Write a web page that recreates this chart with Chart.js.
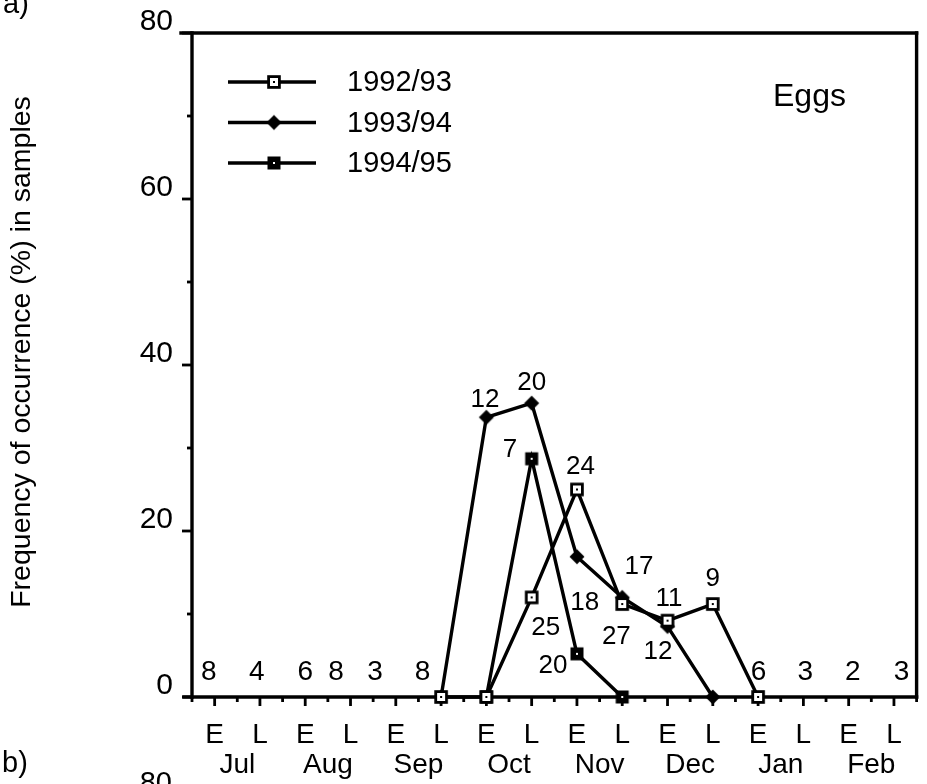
<!DOCTYPE html>
<html>
<head>
<meta charset="utf-8">
<script src="https://cdn.jsdelivr.net/npm/chart.js@4"></script>
<style>
  html, body { margin: 0; padding: 0; background: #fff; }
  #wrap { width: 927px; height: 784px; position: relative; }
</style>
</head>
<body>
<div id="wrap"><canvas id="c"></canvas></div>
<script>
// Sampling periods: early (E) and late (L) half of each month, July to February
const periods = ['E','L','E','L','E','L','E','L','E','L','E','L','E','L','E','L'];
const months = ['Jul','Aug','Sep','Oct','Nov','Dec','Jan','Feb'];

// Frequency of occurrence of eggs (%) per period and season
const seasonNames = ['1992/93', '1993/94', '1994/95'];
const season9293 = [null, null, null, null, null, 0, 0, 12, 25, 11.2, 9.2, 11.2, 0, null, null, null];
const season9394 = [null, null, null, null, null, 0, 33.7, 35.4, 16.9, 12, 8.5, 0, null, null, null, null];
const season9495 = [null, null, null, null, null, null, 0, 28.7, 5.2, 0, null, null, null, null, null, null];

const yMajorTicks = [0, 20, 40, 60, 80];

// Number of samples per period, written beside the points (period index, percent)
const sampleCounts = [
  { text: '8',  at: [-0.13, 3.0] }, { text: '4',  at: [0.93, 3.0] },
  { text: '6',  at: [2.0, 3.0] },   { text: '8',  at: [2.68, 3.0] },
  { text: '3',  at: [3.54, 3.0] },  { text: '8',  at: [4.59, 3.0] },
  { text: '12', at: [5.97, 35.8] }, { text: '20', at: [7.0, 37.8] },
  { text: '7',  at: [6.52, 29.8] }, { text: '24', at: [8.08, 27.7] },
  { text: '17', at: [9.37, 15.7] }, { text: '18', at: [8.17, 11.4] },
  { text: '25', at: [7.31, 8.3] },  { text: '20', at: [7.47, 3.7] },
  { text: '27', at: [8.87, 7.3] },  { text: '11', at: [10.03, 11.8] },
  { text: '12', at: [9.79, 5.4] },  { text: '9',  at: [11.0, 14.2] },
  { text: '6',  at: [12.01, 3.0] }, { text: '3',  at: [13.04, 3.0] },
  { text: '2',  at: [14.09, 3.0] }, { text: '3',  at: [15.17, 3.0] }
];

const FONT = '"Liberation Sans", Arial, Helvetica, sans-serif';

// Marker images
function marker(kind) {
  const s = 18, c = document.createElement('canvas');
  c.width = s; c.height = s;
  const g = c.getContext('2d');
  const m = s / 2;
  if (kind === 'open') {
    g.fillStyle = '#fff'; g.fillRect(m - 6, m - 6, 12, 12);
    g.strokeStyle = '#000'; g.lineWidth = 2.8; g.strokeRect(m - 5.4, m - 5.4, 10.8, 10.8);
    g.fillStyle = '#000'; g.fillRect(m - 1, m - 1, 2, 2);
  } else if (kind === 'filled') {
    g.fillStyle = '#000'; g.fillRect(m - 6.5, m - 6.5, 13, 13);
    g.fillStyle = '#fff'; g.fillRect(m - 1, m - 1, 2, 2);
  } else {
    g.fillStyle = '#000'; g.beginPath();
    g.moveTo(m, m - 7.5); g.lineTo(m + 7.5, m); g.lineTo(m, m + 7.5); g.lineTo(m - 7.5, m);
    g.closePath(); g.fill();
  }
  return c;
}
const markers = [marker('open'), marker('diamond'), marker('filled')];

function line(ctx, x1, y1, x2, y2) {
  ctx.beginPath(); ctx.moveTo(x1, y1); ctx.lineTo(x2, y2); ctx.stroke();
}

// Box frame with outward tick marks
const framePlugin = {
  id: 'frame',
  beforeDatasetsDraw(chart) {
    const { ctx, chartArea: a, scales: { x, y } } = chart;
    ctx.save();
    ctx.strokeStyle = '#000';
    ctx.lineWidth = 3.4;
    ctx.lineCap = 'square';
    line(ctx, a.left, a.top, a.left, a.bottom);
    line(ctx, a.left - 8, a.bottom, a.right, a.bottom);
    line(ctx, a.left - 11, a.top, a.right, a.top);
    line(ctx, a.right, a.top, a.right, a.bottom);
    ctx.lineCap = 'butt';
    ctx.lineWidth = 2.8;
    for (let v = 0; v <= 80; v += 10) {
      const py = y.getPixelForValue(v);
      const len = yMajorTicks.includes(v) ? 10 : 5;
      line(ctx, a.left - len, py, a.left, py);
    }
    for (let i = 0; i < periods.length; i++) {
      const px = x.getPixelForValue(i);
      line(ctx, px, a.bottom, px, a.bottom + 9);
    }
    for (let i = -0.5; i <= periods.length - 0.5; i += 1) {
      const px = x.getPixelForValue(i);
      line(ctx, px, a.bottom, px, a.bottom + 5);
    }
    ctx.restore();
  }
};

// Text: sample counts, month names, legend, title, panel letters
const textPlugin = {
  id: 'texts',
  afterDraw(chart) {
    const { ctx, chartArea: a, scales: { x, y } } = chart;
    ctx.save();
    ctx.fillStyle = '#000';
    ctx.textAlign = 'center';
    ctx.textBaseline = 'middle';

    sampleCounts.forEach(s => {
      ctx.font = (s.at[1] === 3.0 ? '28px ' : '26px ') + FONT;
      ctx.fillText(s.text, x.getPixelForValue(s.at[0]), y.getPixelForValue(s.at[1]));
    });

    ctx.font = '28px ' + FONT;
    months.forEach((m, k) => {
      const px = (x.getPixelForValue(2 * k) + x.getPixelForValue(2 * k + 1)) / 2;
      ctx.fillText(m, px, a.bottom + 68);
    });

    // Legend
    ctx.textAlign = 'left';
    ctx.font = '29px ' + FONT;
    seasonNames.forEach((name, i) => {
      const ly = a.top + 49 + i * 40.5;
      ctx.strokeStyle = '#000'; ctx.lineWidth = 3.4;
      line(ctx, a.left + 36, ly, a.left + 124, ly);
      const mk = markers[i];
      ctx.drawImage(mk, a.left + 82 - mk.width / 2, ly - mk.height / 2);
      ctx.fillText(name, a.left + 155, ly + 1);
    });

    ctx.font = '32px ' + FONT;
    ctx.fillText('Eggs', 773, 97);

    // Axis title
    ctx.save();
    ctx.translate(22, 352);
    ctx.rotate(-Math.PI / 2);
    ctx.textAlign = 'center';
    ctx.font = '28.5px ' + FONT;
    ctx.fillText('Frequency of occurrence (%) in samples', 0, 0);
    ctx.restore();

    ctx.textBaseline = 'alphabetic';
    ctx.textAlign = 'left';
    ctx.font = '29px ' + FONT;
    ctx.fillText('a)', 3, 13);
    ctx.fillText('b)', 2, 772);
    ctx.textAlign = 'right';
    ctx.fillText('80', 172, 792);
    ctx.restore();
  }
};

function series(label, data, i) {
  return {
    label, data,
    borderColor: '#000', borderWidth: 3.4, tension: 0,
    pointStyle: markers[i], pointRadius: 7, pointHoverRadius: 7,
    clip: false, fill: false
  };
}

new Chart(document.getElementById('c'), {
  type: 'line',
  data: {
    labels: periods,
    datasets: [
      series(seasonNames[0], season9293, 0),
      series(seasonNames[1], season9394, 1),
      series(seasonNames[2], season9495, 2)
    ]
  },
  options: {
    responsive: true,
    maintainAspectRatio: false,
    animation: false,
    events: [],
    layout: { padding: { top: 33, right: 6, left: 0, bottom: 0 } },
    plugins: { legend: { display: false }, tooltip: { enabled: false } },
    scales: {
      x: {
        type: 'category',
        offset: true,
        grid: { display: false, drawTicks: false },
        border: { display: false },
        ticks: {
          color: '#000', font: { family: FONT, size: 28 },
          padding: 21, maxRotation: 0, autoSkip: false
        },
        afterFit(s) { s.height = 87; s.paddingLeft = 0; s.paddingRight = 0; }
      },
      y: {
        min: 0, max: 80,
        grid: { display: false, drawTicks: false },
        border: { display: false },
        ticks: {
          stepSize: 20, color: '#000', font: { family: FONT, size: 30 },
          padding: 19, labelOffset: -11
        },
        afterFit(s) { s.width = 192; s.paddingTop = 0; s.paddingBottom = 0; }
      }
    }
  },
  plugins: [framePlugin, textPlugin]
});
</script>
</body>
</html>
